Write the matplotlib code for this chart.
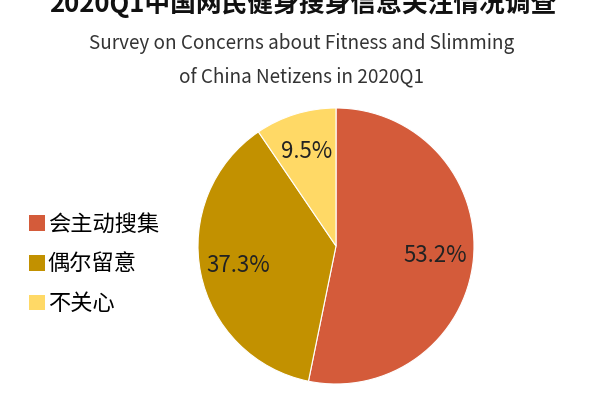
import matplotlib.pyplot as plt
from matplotlib.patches import Patch

plt.rcParams['font.family'] = ['Noto Sans CJK SC', 'DejaVu Sans']

labels = ["会主动搜集", "偶尔留意", "不关心"]
values = [53.2, 37.3, 9.5]
colors = ["#D45B3A", "#C29100", "#FFD966"]

title = "2020Q1中国网民健身搜身信息关注情况调查"
subtitle = ["Survey on Concerns about Fitness and Slimming", "of China Netizens in 2020Q1"]

fig = plt.figure(figsize=(6, 4), dpi=100)
ax = fig.add_axes([0.33, 0.04, 0.46, 0.69])

wedges, texts, autotexts = ax.pie(values, colors=colors, startangle=90, counterclock=False,
                                  autopct="%.1f%%", pctdistance=0.72,
                                  wedgeprops=dict(edgecolor="white", linewidth=0.8),
                                  textprops=dict(fontsize=16, color="#222222"))
ax.set_xlim(-1, 1)
ax.set_ylim(-1, 1)
ax.set_aspect("equal")

fig.text(0.505, 0.99, title, ha="center", va="center", fontsize=18.5, fontweight="bold", color="#111111")
fig.text(0.503, 0.8925, subtitle[0], ha="center", va="center", fontsize=13.6, color="#333333")
fig.text(0.503, 0.8075, subtitle[1], ha="center", va="center", fontsize=13.6, color="#333333")

handles = [Patch(facecolor=c, edgecolor="none") for c in colors]
fig.legend(handles, labels, loc="center left", bbox_to_anchor=(0.015, 0.34), frameon=False,
           fontsize=16, handlelength=0.7, handleheight=0.7, handletextpad=0.15,
           labelspacing=0.75)

fig.savefig("out.png", dpi=100)
